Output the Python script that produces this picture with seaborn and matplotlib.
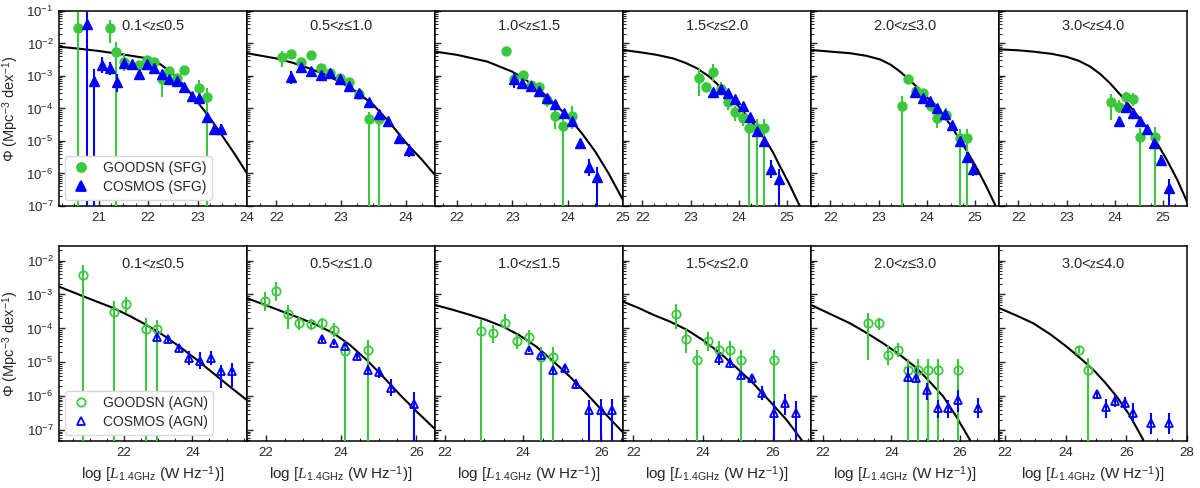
import numpy as np
import matplotlib
matplotlib.use('Agg')
import matplotlib.pyplot as plt
import seaborn as sns
from matplotlib.lines import Line2D
from matplotlib.ticker import MultipleLocator, LogLocator, NullFormatter

# redshift bins (same for both rows)
z_labels = ['0.1<$z$≤0.5', '0.5<$z$≤1.0', '1.0<$z$≤1.5',
            '1.5<$z$≤2.0', '2.0<$z$≤3.0', '3.0<$z$≤4.0']

# data points: (log L, log Phi, err down [dex], err up [dex]); None = bar down to the axis
sfg_goodsn = [
    [(20.59, -1.53, None, 0.5), (21.22, -1.53, 0.45, 0.25), (21.35, -2.25, None, 0.31),
     (21.51, -2.56, 0.3, 0.26), (21.82, -2.66, 0.1, 0.1), (21.97, -2.51, 0.1, 0.1),
     (22.12, -2.56, 0.1, 0.1), (22.28, -3.09, 0.55, 0.22), (22.43, -2.85, 0.15, 0.12),
     (22.58, -3.07, 0.15, 0.12), (22.72, -2.82, 0.1, 0.1), (23.03, -3.36, 0.3, 0.25),
     (23.19, -3.66, None, 0.3)],
    [(22.09, -2.43, 0.3, 0.2), (22.23, -2.32, 0.12, 0.12), (22.38, -2.56, 0.1, 0.1),
     (22.53, -2.35, 0.1, 0.1), (22.69, -2.74, 0.08, 0.08), (22.83, -2.90, 0.08, 0.08),
     (22.99, -3.05, 0.08, 0.08), (23.13, -3.17, 0.08, 0.08), (23.28, -3.56, 0.1, 0.1),
     (23.43, -4.32, None, 0.2), (23.58, -4.32, None, 0.2)],
    [(22.88, -2.23, 0.15, 0.12), (23.03, -3.09, 0.1, 0.1), (23.19, -2.97, 0.1, 0.1),
     (23.33, -3.28, 0.1, 0.1), (23.48, -3.35, 0.1, 0.1), (23.63, -3.74, 0.2, 0.2),
     (23.77, -4.22, 0.4, 0.3), (23.92, -4.53, None, 0.38), (24.08, -4.22, 0.4, 0.3)],
    [(23.18, -3.07, 0.55, 0.28), (23.32, -3.33, 0.15, 0.15), (23.47, -2.89, 0.25, 0.25),
     (23.63, -3.40, 0.2, 0.2), (23.77, -3.79, 0.25, 0.2), (23.92, -4.12, 0.25, 0.2),
     (24.08, -4.30, 0.25, 0.2), (24.22, -4.61, None, 0.3), (24.37, -4.61, None, 0.3),
     (24.53, -4.61, None, 0.3)],
    [(23.48, -3.92, None, 0.3), (23.62, -3.10, 0.1, 0.1), (23.78, -3.45, 0.1, 0.1),
     (23.93, -3.53, 0.12, 0.12), (24.08, -3.92, 0.15, 0.15), (24.22, -4.30, 0.3, 0.2),
     (24.39, -4.20, 0.2, 0.2), (24.68, -4.92, None, 0.3), (24.83, -4.92, None, 0.3)],
    [(23.92, -3.79, 0.55, 0.25), (24.08, -3.94, 0.2, 0.2), (24.23, -3.64, 0.15, 0.15),
     (24.37, -3.72, 0.2, 0.2), (24.53, -4.89, None, 0.28), (24.84, -4.89, None, 0.33)],
]

sfg_cosmos = [
    [(20.76, -1.40, None, 0.5), (20.91, -3.15, None, 0.35), (21.07, -2.66, 0.25, 0.25),
     (21.22, -2.76, 0.2, 0.2), (21.37, -3.20, 0.3, 0.25), (21.52, -2.61, 0.1, 0.1),
     (21.67, -2.63, 0.08, 0.08), (21.82, -2.94, 0.08, 0.08), (21.97, -2.63, 0.06, 0.06),
     (22.12, -2.76, 0.06, 0.06), (22.28, -2.94, 0.06, 0.06), (22.43, -3.09, 0.06, 0.06),
     (22.58, -3.15, 0.06, 0.06), (22.72, -3.35, 0.06, 0.06), (22.88, -3.62, 0.06, 0.06),
     (23.03, -3.69, 0.08, 0.08), (23.19, -4.27, 0.12, 0.12), (23.33, -4.64, 0.15, 0.15),
     (23.48, -4.64, 0.15, 0.15)],
    [(22.23, -3.04, 0.2, 0.2), (22.38, -2.71, 0.08, 0.08), (22.53, -2.85, 0.06, 0.06),
     (22.69, -2.97, 0.05, 0.05), (22.83, -2.90, 0.05, 0.05), (22.99, -3.09, 0.05, 0.05),
     (23.13, -3.31, 0.05, 0.05), (23.28, -3.53, 0.05, 0.05), (23.43, -3.79, 0.06, 0.06),
     (23.58, -4.18, 0.08, 0.08), (23.73, -4.40, 0.1, 0.1), (23.89, -4.92, 0.12, 0.12),
     (24.05, -5.28, 0.2, 0.2)],
    [(23.03, -3.08, 0.3, 0.2), (23.18, -3.23, 0.06, 0.06), (23.33, -3.31, 0.06, 0.06),
     (23.48, -3.45, 0.06, 0.06), (23.63, -3.69, 0.06, 0.06), (23.77, -3.86, 0.07, 0.07),
     (23.93, -4.15, 0.08, 0.08), (24.08, -4.40, 0.1, 0.1), (24.23, -5.05, 0.12, 0.12),
     (24.38, -5.79, 0.3, 0.25), (24.53, -6.10, None, 0.3)],
    [(23.47, -3.48, 0.06, 0.06), (23.63, -3.41, 0.06, 0.06), (23.77, -3.51, 0.06, 0.06),
     (23.92, -3.71, 0.06, 0.06), (24.08, -3.92, 0.07, 0.07), (24.23, -4.27, 0.08, 0.08),
     (24.37, -4.69, 0.1, 0.1), (24.52, -4.99, 0.12, 0.12), (24.67, -5.87, 0.28, 0.28),
     (24.83, -6.17, None, 0.3)],
    [(23.76, -3.48, 0.06, 0.06), (23.92, -3.67, 0.06, 0.06), (24.07, -3.76, 0.06, 0.06),
     (24.22, -3.99, 0.07, 0.07), (24.38, -4.18, 0.08, 0.08), (24.53, -4.51, 0.1, 0.1),
     (24.68, -4.99, 0.12, 0.12), (24.83, -5.48, 0.15, 0.15), (24.97, -5.87, 0.2, 0.2)],
    [(24.08, -4.37, 0.12, 0.12), (24.23, -3.96, 0.07, 0.07), (24.37, -4.15, 0.07, 0.07),
     (24.53, -4.40, 0.08, 0.08), (24.66, -4.64, 0.1, 0.1), (24.81, -5.07, 0.12, 0.12),
     (24.97, -5.58, 0.15, 0.15), (25.12, -6.46, None, 0.3)],
]

agn_goodsn = [
    [(20.79, -2.42, None, 0.3), (21.72, -3.53, None, 0.33), (22.05, -3.29, 0.25, 0.23),
     (22.64, -4.02, None, 0.33), (22.97, -4.02, None, 0.28)],
    [(21.98, -3.19, 0.3, 0.25), (22.26, -2.89, 0.3, 0.25), (22.58, -3.57, 0.45, 0.25),
     (22.88, -3.85, 0.2, 0.2), (23.19, -3.86, 0.2, 0.15), (23.49, -3.85, 0.2, 0.15),
     (23.80, -4.04, 0.2, 0.2), (24.11, -4.66, None, 0.3), (24.73, -4.63, None, 0.3)],
    [(22.92, -4.07, None, 0.35), (23.24, -4.14, 0.3, 0.25), (23.54, -3.83, 0.2, 0.25),
     (23.85, -4.37, 0.25, 0.2), (24.15, -4.24, 0.25, 0.2), (24.45, -4.85, None, 0.3),
     (24.77, -4.85, None, 0.3)],
    [(23.21, -3.57, 0.45, 0.28), (23.51, -4.32, 0.4, 0.3), (23.82, -4.93, None, 0.3),
     (24.15, -4.37, 0.3, 0.25), (24.47, -4.63, 0.3, 0.25), (24.77, -4.63, 0.3, 0.25),
     (25.08, -4.93, None, 0.3), (26.04, -4.93, None, 0.3)],
    [(23.33, -3.85, 1.08, 0.3), (23.64, -3.85, 0.2, 0.15), (23.91, -4.78, 0.3, 0.25),
     (24.20, -4.63, 0.2, 0.2), (24.48, -5.24, None, 0.35), (24.79, -5.24, None, 0.35),
     (25.07, -5.24, None, 0.35), (25.36, -5.24, None, 0.35), (25.95, -5.24, None, 0.35)],
    [(24.45, -4.63, 0.1, 0.1), (24.75, -5.22, None, 0.35)],
]

agn_cosmos = [
    [(22.97, -4.24, 0.1, 0.1), (23.30, -4.32, 0.1, 0.1), (23.61, -4.58, 0.12, 0.12),
     (23.91, -4.88, 0.2, 0.2), (24.22, -4.95, 0.25, 0.25), (24.54, -4.88, 0.2, 0.2),
     (24.84, -5.27, 0.5, 0.2), (25.15, -5.27, 0.45, 0.25)],
    [(23.49, -4.32, 0.08, 0.08), (23.80, -4.42, 0.08, 0.08), (24.11, -4.52, 0.1, 0.1),
     (24.42, -4.80, 0.1, 0.1), (24.73, -5.22, 0.15, 0.15), (25.02, -5.30, 0.15, 0.15),
     (25.33, -5.75, 0.25, 0.25), (25.95, -6.23, None, 0.35)],
    [(24.15, -4.63, 0.08, 0.08), (24.45, -4.78, 0.1, 0.1), (24.77, -5.22, 0.12, 0.12),
     (25.07, -5.17, 0.1, 0.1), (25.36, -5.64, 0.15, 0.15), (25.69, -6.42, None, 0.3),
     (25.98, -6.42, None, 0.35), (26.28, -6.42, None, 0.35)],
    [(24.46, -4.88, 0.2, 0.15), (24.77, -5.03, 0.15, 0.15), (25.08, -5.37, 0.1, 0.1),
     (25.40, -5.47, 0.1, 0.1), (25.70, -5.91, 0.2, 0.2), (26.03, -6.48, None, 0.35),
     (26.34, -6.19, 0.35, 0.25), (26.66, -6.48, None, 0.35)],
    [(24.48, -5.42, 0.15, 0.3), (24.72, -5.47, 0.15, 0.3), (25.05, -5.81, 0.3, 0.2),
     (25.35, -6.35, 0.3, 0.25), (25.65, -6.35, 0.3, 0.25), (25.94, -6.11, 0.35, 0.3),
     (26.52, -6.35, 0.3, 0.3)],
    [(25.04, -5.93, 0.15, 0.12), (25.33, -6.33, 0.3, 0.25), (25.63, -6.13, 0.2, 0.2),
     (25.94, -6.21, 0.2, 0.2), (26.23, -6.50, 0.3, 0.3), (26.82, -6.80, 0.3, 0.3),
     (27.42, -6.80, 0.3, 0.3)],
]

# fitted luminosity functions: (log L, log Phi)
sfg_model = [
    [(20.2, -2.10), (20.6, -2.16), (21.0, -2.23), (21.5, -2.34), (22.0, -2.46), (22.25, -2.64),
     (22.5, -2.93), (22.75, -3.33), (23.0, -3.80), (23.25, -4.29), (23.5, -4.84),
     (23.75, -5.40), (24.0, -6.00)],
    [(21.55, -2.30), (22.0, -2.46), (22.25, -2.59), (22.5, -2.76), (22.75, -2.95),
     (23.0, -3.20), (23.25, -3.50), (23.5, -3.89), (23.75, -4.43), (24.0, -5.05),
     (24.25, -5.58), (24.45, -6.05)],
    [(21.6, -2.25), (22.0, -2.35), (22.55, -2.56), (23.0, -2.87), (23.25, -3.13),
     (23.52, -3.48), (23.75, -3.83), (24.0, -4.25), (24.25, -4.75), (24.5, -5.33),
     (24.75, -6.03), (25.0, -6.82)],
    [(21.6, -2.20), (22.0, -2.28), (22.3, -2.35), (22.64, -2.46), (22.9, -2.60),
     (23.13, -2.76), (23.4, -3.03), (23.61, -3.33), (23.82, -3.64), (24.03, -3.99),
     (24.28, -4.42), (24.51, -4.87), (24.7, -5.32), (24.86, -5.79), (25.05, -6.33),
     (25.24, -6.92), (25.3, -7.1)],
    [(21.6, -2.20), (22.0, -2.25), (22.41, -2.30), (22.75, -2.38), (23.03, -2.49),
     (23.25, -2.65), (23.45, -2.87), (23.65, -3.13), (23.86, -3.43), (24.07, -3.75),
     (24.28, -4.09), (24.5, -4.52), (24.69, -4.97), (24.87, -5.40), (25.04, -5.84),
     (25.23, -6.38), (25.42, -6.97), (25.5, -7.2)],
    [(21.6, -2.18), (22.0, -2.21), (22.31, -2.25), (22.7, -2.32), (23.0, -2.41),
     (23.25, -2.53), (23.49, -2.71), (23.7, -2.94), (23.9, -3.22), (24.1, -3.55),
     (24.32, -3.94), (24.52, -4.31), (24.73, -4.71), (24.9, -5.12), (25.08, -5.58),
     (25.3, -6.20), (25.5, -6.87)],
]

agn_model = [
    [(20.1, -2.77), (20.9, -3.09), (21.69, -3.40), (22.2, -3.65), (22.66, -3.90),
     (23.15, -4.20), (23.63, -4.54), (24.1, -4.90), (24.61, -5.32), (25.1, -5.72),
     (25.59, -6.11)],
    [(21.5, -3.11), (22.2, -3.40), (22.91, -3.70), (23.35, -3.90), (23.8, -4.14),
     (24.25, -4.50), (24.68, -4.93), (25.1, -5.40), (25.57, -5.96), (26.0, -6.44),
     (26.5, -6.97)],
    [(21.75, -3.31), (22.2, -3.45), (22.64, -3.60), (23.05, -3.75), (23.49, -3.95),
     (23.9, -4.20), (24.34, -4.54), (24.75, -4.95), (25.19, -5.42), (25.6, -5.90),
     (25.96, -6.35), (26.55, -7.07)],
    [(21.7, -3.21), (22.15, -3.40), (22.57, -3.60), (23.05, -3.80), (23.53, -4.04),
     (24.0, -4.35), (24.49, -4.73), (24.95, -5.15), (25.44, -5.62), (25.9, -6.13),
     (26.4, -6.70), (26.83, -7.29)],
    [(21.65, -3.31), (22.2, -3.57), (22.79, -3.85), (23.27, -4.13), (23.76, -4.44),
     (24.25, -4.78), (24.74, -5.17), (25.12, -5.57), (25.52, -6.01), (25.9, -6.60),
     (26.3, -7.29)],
    [(21.8, -3.40), (22.35, -3.61), (22.93, -3.85), (23.5, -4.18), (24.03, -4.54),
     (24.47, -4.87), (24.91, -5.22), (25.3, -5.60), (25.68, -6.01), (26.1, -6.55),
     (26.56, -7.29)],
]

# axis ranges
sfg_xlims = [(20.2, 24.0), (21.55, 24.45), (21.6, 25.0), (21.6, 25.5), (21.6, 25.5), (21.6, 25.5)]
agn_xlims = [(20.1, 25.6), (21.5, 26.5), (21.75, 26.55), (21.7, 27.1), (21.65, 27.15), (21.8, 28.0)]
sfg_ylim = (1e-7, 1e-1)
agn_ylim = (10 ** -7.32, 10 ** -1.57)

green = '#3cc83c'
blue = '#0000ff'

sns.set_style('ticks')
plt.rcParams['font.family'] = ['Liberation Sans', 'DejaVu Sans']
plt.rcParams['mathtext.fontset'] = 'custom'
plt.rcParams['mathtext.rm'] = 'Liberation Sans'
plt.rcParams['mathtext.it'] = 'Liberation Serif:italic'
plt.rcParams['mathtext.bf'] = 'Liberation Sans:bold'
plt.rcParams['axes.linewidth'] = 1.1
plt.rcParams['axes.edgecolor'] = 'black'

fig, axes = plt.subplots(2, 6, figsize=(12, 4.88), dpi=100)
fig.subplots_adjust(left=0.0492, right=0.9892, top=0.9775, bottom=0.0963,
                    wspace=0, hspace=0.205)


def draw_points(ax, pts, color, marker, filled, ybottom):
    L = np.array([p[0] for p in pts])
    y = np.array([p[1] for p in pts])
    phi = 10 ** y
    lo = np.array([phi[i] - (ybottom * 0.01 if p[2] is None else 10 ** (p[1] - p[2]))
                   for i, p in enumerate(pts)])
    hi = np.array([10 ** (p[1] + p[3]) for p in pts]) - phi
    ax.errorbar(L, phi, yerr=[lo, hi], fmt=marker, color=color, ecolor=color,
                elinewidth=1.5, capsize=0, markersize=6.5 if filled else 6,
                mfc=color if filled else 'none', mec=color,
                mew=1.0 if filled else 1.3, zorder=3)


for row in range(2):
    for col in range(6):
        ax = axes[row, col]
        if row == 0:
            model, gpts, bpts = sfg_model[col], sfg_goodsn[col], sfg_cosmos[col]
            xlim, ylim, filled = sfg_xlims[col], sfg_ylim, True
        else:
            model, gpts, bpts = agn_model[col], agn_goodsn[col], agn_cosmos[col]
            xlim, ylim, filled = agn_xlims[col], agn_ylim, False

        sns.lineplot(x=[m[0] for m in model], y=[10 ** m[1] for m in model],
                     ax=ax, color='black', lw=1.5, zorder=2, sort=True)
        draw_points(ax, gpts, green, 'o', filled, ylim[0])
        draw_points(ax, bpts, blue, '^', filled, ylim[0])

        ax.set_yscale('log')
        ax.set_xlim(*xlim)
        ax.set_ylim(*ylim)
        ax.xaxis.set_major_locator(MultipleLocator(1 if row == 0 else 2))
        ax.xaxis.set_minor_locator(MultipleLocator(0.25 if row == 0 else 0.5))
        ax.yaxis.set_major_locator(LogLocator(base=10, numticks=12))
        ax.yaxis.set_minor_locator(LogLocator(base=10, subs=np.arange(2, 10), numticks=12))
        ax.yaxis.set_minor_formatter(NullFormatter())
        ax.tick_params(which='major', direction='in', length=4, width=1.0,
                       labelsize=9.5, pad=4, top=False, right=False)
        ax.tick_params(which='minor', direction='in', length=2, width=0.8,
                       top=False, right=False)
        for s in ax.spines.values():
            s.set_visible(True)
            s.set_color('black')

        ax.text(0.5, 0.925 if row == 0 else 0.91, z_labels[col], transform=ax.transAxes,
                ha='center', va='center', fontsize=10.5)

        if col == 0:
            ax.set_ylabel('Φ (Mpc$^{-3}$ dex$^{-1}$)', fontsize=10.5)
            ax.yaxis.set_label_coords(-0.2, 0.5)
        else:
            ax.set_yticklabels([])
        if row == 1:
            ax.set_xlabel('log [$L_{\\rm 1.4GHz}$ (W Hz$^{-1}$)]', fontsize=11, labelpad=4)

# legends
tag = ['SFG', 'AGN']
for row in range(2):
    filled = row == 0
    handles = [
        Line2D([], [], ls='none', marker='o', color=green, mec=green,
               mfc=green if filled else 'none', markersize=6.5 if filled else 6, mew=1.3),
        Line2D([], [], ls='none', marker='^', color=blue, mec=blue,
               mfc=blue if filled else 'none', markersize=6.5 if filled else 6, mew=1.3),
    ]
    axes[row, 0].legend(handles, [f'GOODSN ({tag[row]})', f'COSMOS ({tag[row]})'],
                        loc='lower left', fontsize=10, handletextpad=0.8,
                        borderaxespad=0.45, labelspacing=0.35, handlelength=1.5,
                        frameon=True, edgecolor='0.85', framealpha=1.0)

plt.savefig('out.png', dpi=100)
